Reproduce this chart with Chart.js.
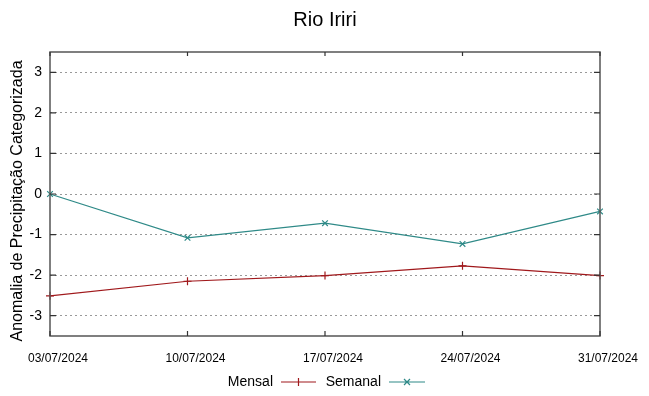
<!DOCTYPE html>
<html>
<head>
<meta charset="utf-8">
<script src="https://cdn.jsdelivr.net/npm/chart.js@4"></script>
<style>
	body { margin: 0; background: #fff; }
	#wrap { width: 649px; height: 396px; }
</style>
</head>
<body>
<div id="wrap"><canvas id="rio-iriri"></canvas></div>
<script>
const dates = ["03/07/2024", "10/07/2024", "17/07/2024", "24/07/2024", "31/07/2024"];
const mensal = [-2.51, -2.15, -2.01, -1.77, -2.01];
const semanal = [0, -1.08, -0.72, -1.23, -0.43];
const yTicks = [-3, -2, -1, 0, 1, 2, 3];

const mensalColor = "#a0191c";
const semanalColor = "#2f8a88";
const fontFamily = "'Liberation Sans', Arial, sans-serif";

// frame, inward ticks, titles and the gnuplot-like legend
const gnuplotFrame = {
	id: "gnuplotFrame",
	afterDraw(chart) {
		const ctx = chart.ctx;
		const a = chart.chartArea;
		const x = chart.scales.x, y = chart.scales.y;
		ctx.save();
		ctx.strokeStyle = "#555";
		ctx.lineWidth = 1.5;
		ctx.strokeRect(a.left, a.top, a.right - a.left, a.bottom - a.top);
		ctx.lineWidth = 1.2;
		ctx.strokeStyle = "#333";
		ctx.beginPath();
		yTicks.forEach(v => {
			const py = y.getPixelForValue(v);
			ctx.moveTo(a.left, py); ctx.lineTo(a.left + 6, py);
			ctx.moveTo(a.right, py); ctx.lineTo(a.right - 6, py);
		});
		dates.forEach((d, i) => {
			const px = x.getPixelForValue(i);
			ctx.moveTo(px, a.bottom); ctx.lineTo(px, a.bottom - 5);
			ctx.moveTo(px, a.top); ctx.lineTo(px, a.top + 4);
		});
		ctx.stroke();

		ctx.fillStyle = "#000";
		ctx.font = "20px " + fontFamily;
		ctx.textAlign = "center";
		ctx.textBaseline = "middle";
		ctx.fillText("Rio Iriri", (a.left + a.right) / 2, 20);

		// y axis title
		ctx.save();
		ctx.translate(18, 201);
		ctx.rotate(-Math.PI / 2);
		ctx.font = "16px " + fontFamily;
		ctx.fillText("Anomalia de Precipitação Categorizada", 0, 0);
		ctx.restore();

		// legend
		ctx.font = "14px " + fontFamily;
		ctx.textAlign = "right";
		const ly = 382;
		const items = [
			{ label: "Mensal", color: mensalColor, textRight: 273, x0: 281, x1: 316, mark: "cross" },
			{ label: "Semanal", color: semanalColor, textRight: 381, x0: 389, x1: 425, mark: "crossRot" }
		];
		items.forEach(it => {
			ctx.fillStyle = "#000";
			ctx.fillText(it.label, it.textRight, ly);
			ctx.strokeStyle = it.color;
			ctx.lineWidth = 1.2;
			ctx.beginPath();
			ctx.moveTo(it.x0, ly); ctx.lineTo(it.x1, ly);
			const cx = (it.x0 + it.x1) / 2;
			if (it.mark === "cross") {
				ctx.moveTo(cx, ly - 4); ctx.lineTo(cx, ly + 4);
			} else {
				ctx.moveTo(cx - 3, ly - 3); ctx.lineTo(cx + 3, ly + 3);
				ctx.moveTo(cx - 3, ly + 3); ctx.lineTo(cx + 3, ly - 3);
			}
			ctx.stroke();
		});
		ctx.restore();
	}
};

new Chart(document.getElementById("rio-iriri"), {
	type: "line",
	data: {
		labels: dates,
		datasets: [
			{ label: "Mensal", data: mensal, borderColor: mensalColor, backgroundColor: mensalColor,
				borderWidth: 1.2, pointStyle: "cross", pointRadius: 4, pointBorderWidth: 1.2, tension: 0 },
			{ label: "Semanal", data: semanal, borderColor: semanalColor, backgroundColor: semanalColor,
				borderWidth: 1.2, pointStyle: "crossRot", pointRadius: 4, pointBorderWidth: 1.2, tension: 0 }
		]
	},
	options: {
		responsive: true,
		maintainAspectRatio: false,
		animation: false,
		layout: { padding: { top: 52, right: 49, left: 0, bottom: 0 } },
		scales: {
			x: {
				offset: false,
				grid: { display: false },
				border: { display: false },
				ticks: { color: "#000", font: { family: fontFamily, size: 12 }, maxRotation: 0, padding: 7, labelOffset: 8 },
				afterFit(scale) { scale.height = 60; }
			},
			y: {
				min: -3.5,
				max: 3.5,
				afterBuildTicks(scale) { scale.ticks = yTicks.map(v => ({ value: v })); },
				grid: { color: "#999", lineWidth: 1, drawTicks: false },
				border: { display: false, dash: [2, 3] },
				ticks: { color: "#000", font: { family: fontFamily, size: 14 }, padding: 8 },
				afterFit(scale) { scale.width = 50; }
			}
		},
		plugins: {
			legend: { display: false },
			title: { display: false },
			tooltip: { enabled: false }
		}
	},
	plugins: [gnuplotFrame]
});
</script>
</body>
</html>
